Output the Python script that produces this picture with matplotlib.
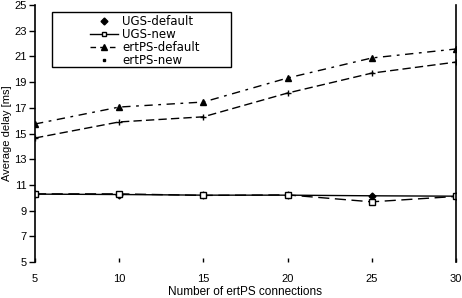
import matplotlib
matplotlib.use('Agg')
import matplotlib.pyplot as plt
from matplotlib.lines import Line2D
from matplotlib.patches import Rectangle

plt.rcParams['font.family'] = ['Liberation Sans', 'DejaVu Sans']

connections = [5, 10, 15, 20, 25, 30]
ugs_default = [10.28, 10.25, 10.2, 10.2, 10.15, 10.12]
ugs_new = [10.3, 10.3, 10.18, 10.22, 9.68, 10.1]
ertps_default = [15.74, 17.06, 17.45, 19.32, 20.88, 21.58]
ertps_new = [14.65, 15.9, 16.3, 18.15, 19.7, 20.56]
y_ticks = [5, 7, 9, 11, 13, 15, 17, 19, 21, 23, 25]

fig = plt.figure(figsize=(4.62, 2.98), dpi=100)
ax = fig.add_axes([0.0758, 0.121, 0.911, 0.862])

ax.plot(connections, ugs_default, color='black', lw=1.0, marker='D', ms=3.5,
        mfc='black', mec='black')
ax.plot(connections, ugs_new, color='black', lw=1.0, ls=(0, (8, 4)), marker='s',
        ms=4, mfc='white', mec='black')
ax.plot(connections, ertps_default, color='black', lw=1.0, ls=(0, (6, 4, 2, 4)),
        marker='^', ms=5, mfc='black', mec='black')
ax.plot(connections, ertps_new, color='black', lw=1.0, ls=(0, (6, 3)), marker='+',
        ms=4, mec='black')

ax.set_xlim(5, 30)
ax.set_ylim(5, 25)
ax.set_xticks(connections)
ax.set_yticks(y_ticks)
ax.tick_params(axis='x', direction='in', length=3, width=1, pad=9, labelsize=8)
ax.tick_params(axis='y', direction='out', length=4, width=1, pad=2, labelsize=8)
ax.spines['top'].set_visible(False)
ax.spines['bottom'].set_visible(False)
ax.spines['left'].set_linewidth(1.2)
ax.spines['right'].set_linewidth(1.2)
ax.set_xlabel('Number of ertPS connections', fontsize=8.5)
ax.set_ylabel('Average delay [ms]', fontsize=8)
ax.xaxis.set_label_coords(0.5, -0.095)
ax.yaxis.set_label_coords(-0.055, 0.5)

# legend box as in the original (wide frame, entries set in)
ax.add_patch(Rectangle((0.0404, 0.759), 0.425, 0.214, transform=ax.transAxes,
                       fill=True, facecolor='white', edgecolor='black', lw=1.0,
                       zorder=4))
handles = [
    Line2D([], [], color='black', lw=0, marker='D', ms=3.5, mfc='black'),
    Line2D([], [], color='black', lw=1.0, marker='s', ms=3.5, mfc='white'),
    Line2D([], [], color='black', lw=1.0, ls=(0, (4, 3)), marker='^', ms=4, mfc='black'),
    Line2D([], [], color='black', lw=0, marker='s', ms=2, mfc='black'),
]
labels = ['UGS-default', 'UGS-new', 'ertPS-default', 'ertPS-new']
leg = ax.legend(handles, labels, loc='upper left', bbox_to_anchor=(0.131, 0.962),
                prop={'family': 'DejaVu Sans', 'size': 8.5}, frameon=False,
                borderpad=0, borderaxespad=0, handlelength=2.4,
                labelspacing=0.0, handletextpad=0.3)
leg.set_zorder(5)

fig.savefig('out.png', dpi=100)
